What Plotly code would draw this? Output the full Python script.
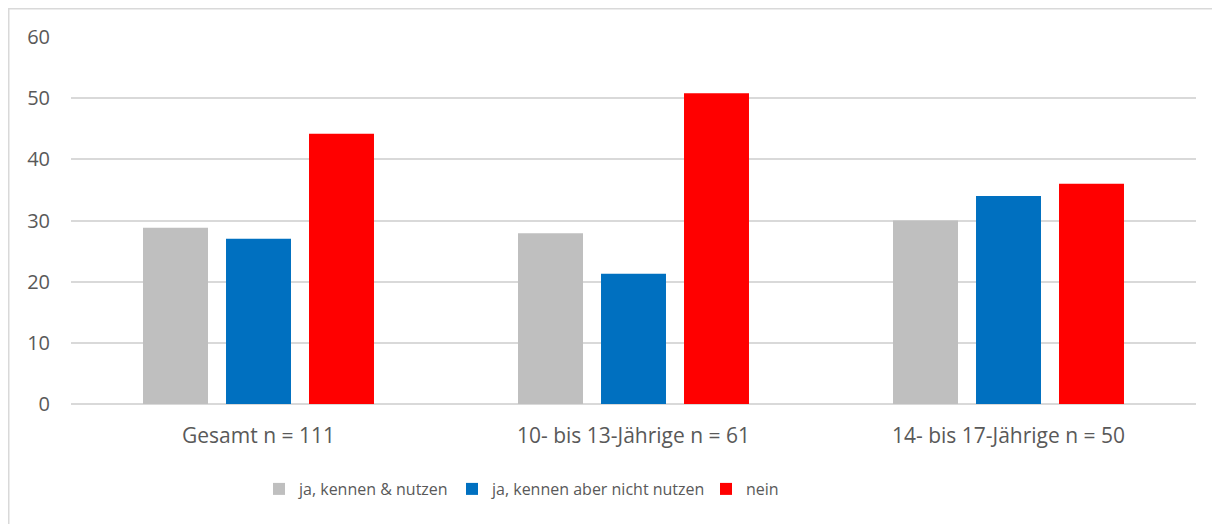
import plotly.graph_objects as go

categories = ["Gesamt n = 111", "10- bis 13-Jährige n = 61", "14- bis 17-Jährige n = 50"]
series_names = ["ja, kennen & nutzen", "ja, kennen aber nicht nutzen", "nein"]
kennen_nutzen = [28.8, 27.9, 30.0]
kennen_nicht_nutzen = [27.0, 21.3, 34.0]
nein = [44.2, 50.8, 36.0]
colors = ["#bfbfbf", "#0070c0", "#ff0000"]
y_ticks = [0, 10, 20, 30, 40, 50, 60]

font_family = "Open Sans, Liberation Sans, sans-serif"
text_color = "#595959"

# page has an 8px body margin; compensate so the plot lands where the reference has it
OFF = 8
W, H = 1220, 524
ml, mt = 71 - OFF, 37 - OFF
plot_right, plot_bottom = 1196 - OFF, 404 - OFF
mr, mb = W - plot_right, H - plot_bottom
pw = plot_right - ml
ph = plot_bottom - mt

legend_text_x = [299, 492, 746]  # page x where each legend label begins
legend_y = -(489 - OFF - plot_bottom) / ph

fig = go.Figure()
legend_ids = ["legend", "legend2", "legend3"]
for name, vals, col, lid in zip(series_names, [kennen_nutzen, kennen_nicht_nutzen, nein], colors, legend_ids):
    fig.add_trace(go.Bar(x=categories, y=vals, name=name, legend=lid,
                         marker=dict(color=col, line=dict(width=0))))

legend_common = dict(orientation="h", xanchor="left", yanchor="middle", y=legend_y,
                     font=dict(size=16, color=text_color, family=font_family),
                     itemwidth=30, bgcolor="rgba(0,0,0,0)", borderwidth=0)
legend_layout = {}
for lid, tx in zip(legend_ids, legend_text_x):
    legend_layout[lid] = dict(legend_common, x=(tx - 40 - OFF - ml) / pw)

fig.update_layout(
    width=W, height=H,
    margin=dict(l=ml, r=mr, t=mt, b=mb, pad=0),
    paper_bgcolor="white", plot_bgcolor="white",
    barmode="group", bargap=0.336, bargroupgap=0.217,
    font=dict(family=font_family, size=20, color=text_color),
    showlegend=True,
    xaxis=dict(showgrid=False, showline=False, ticks="", ticklabelstandoff=17,
               tickfont=dict(size=21, color=text_color)),
    yaxis=dict(range=[0, 60], tickvals=y_ticks, showgrid=True, gridcolor="#d9d9d9", gridwidth=1.5,
               zeroline=True, zerolinecolor="#d9d9d9", zerolinewidth=1.5, showline=False,
               ticks="", ticklabelstandoff=20, tickfont=dict(size=20, color=text_color)),
    **legend_layout,
)

# outer chart border (light gray frame)
fig.add_shape(type="rect", xref="paper", yref="paper",
              x0=(0.75 - ml) / pw, x1=(W + 10 - ml) / pw,
              y0=-(H + 10 - plot_bottom) / ph, y1=1 + (mt - 0.75) / ph,
              line=dict(color="#d9d9d9", width=1.5), fillcolor="rgba(0,0,0,0)", layer="below")

fig.write_html("out.html")
